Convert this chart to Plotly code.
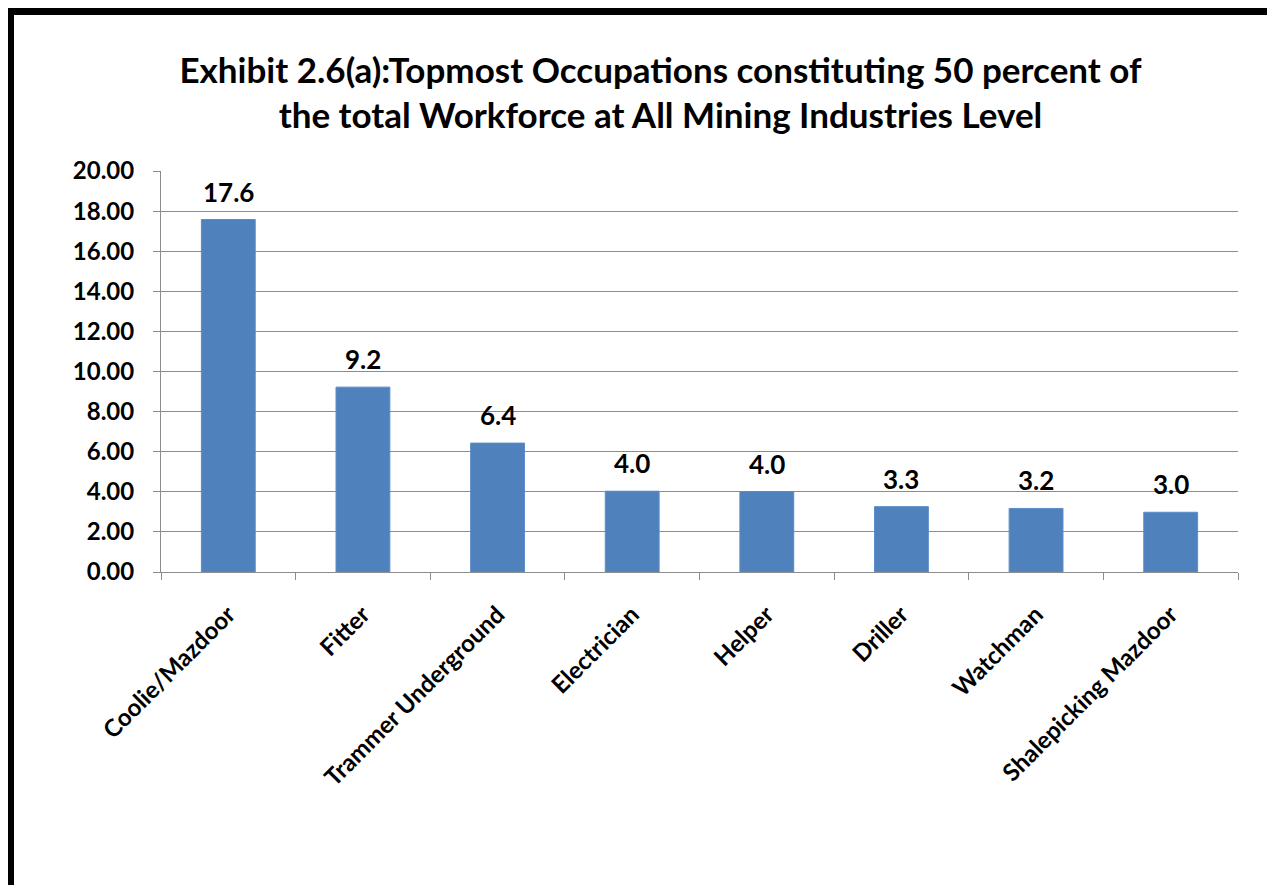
import plotly.graph_objects as go

# Datos del gráfico
ocupaciones = [
    "Coolie/Mazdoor", "Fitter", "Trammer Underground", "Electrician",
    "Helper", "Driller", "Watchman", "Shalepicking Mazdoor",
]
porcentajes = [17.58, 9.22, 6.43, 4.03, 4.01, 3.26, 3.17, 2.98]
ticks_y = [0, 2, 4, 6, 8, 10, 12, 14, 16, 18, 20]

titulo = ("Exhibit 2.6(a):Topmost Occupations constituting 50 percent of<br>"
          "the total Workforce at All Mining Industries Level")

# La página agrega 8px de margen al cuerpo; la figura se ajusta a eso
OFFSET = 8
ANCHO, ALTO = 1275 - OFFSET, 885 - OFFSET
MARGEN = dict(l=161 - OFFSET, r=37, t=171 - OFFSET, b=313)
FUENTE = "Lato"
GRIS = "#8C8C8C"


def px_x(p):
    return (p - OFFSET - MARGEN["l"]) / (ANCHO - MARGEN["l"] - MARGEN["r"])


def px_y(p):
    alto_plot = ALTO - MARGEN["t"] - MARGEN["b"]
    return 1 - (p - OFFSET - MARGEN["t"]) / alto_plot


fig = go.Figure(go.Bar(
    x=ocupaciones,
    y=porcentajes,
    marker=dict(color="#4F81BD", line=dict(color="#5B8DC9", width=1)),
    hovertemplate="%{x}: %{y:.1f}<extra></extra>",
))

# Etiquetas de valor sobre las barras
for cat, val in zip(ocupaciones, porcentajes):
    fig.add_annotation(
        x=cat, y=val, text=f"{val:.1f}", showarrow=False,
        yanchor="bottom", yshift=10,
        font=dict(family=FUENTE, size=26, color="black", weight="bold"),
    )

# Marco negro alrededor del gráfico (coordenadas de página)
borde = [
    (8, 8, 1275, 15),     # superior
    (8, 8, 14, 885),      # izquierdo
    (1271, 8, 1275, 885), # derecho
]
for x0, y0, x1, y1 in borde:
    fig.add_shape(
        type="rect", xref="paper", yref="paper",
        x0=px_x(x0), x1=px_x(x1), y0=px_y(y1), y1=px_y(y0),
        fillcolor="black", line=dict(width=0), layer="above",
    )

fig.update_layout(
    width=ANCHO, height=ALTO,
    margin=MARGEN,
    paper_bgcolor="white", plot_bgcolor="white",
    showlegend=False,
    bargap=0.6,
    title=dict(
        text=titulo, x=0.515, xanchor="center", y=0.915, yanchor="top",
        font=dict(family=FUENTE, size=35, color="black", weight="bold"),
    ),
    xaxis=dict(
        tickangle=-45, tickson="boundaries", ticks="outside", ticklen=7,
        tickcolor=GRIS, showline=True, linecolor=GRIS, linewidth=1,
        showgrid=False, ticklabelstandoff=18, automargin=False,
        tickfont=dict(family=FUENTE, size=24, color="black", weight="bold"),
    ),
    yaxis=dict(
        range=[0, 20], tickvals=ticks_y, tickformat=".2f",
        ticks="outside", ticklen=7, tickcolor=GRIS,
        showline=True, linecolor=GRIS, linewidth=1,
        showgrid=True, gridcolor=GRIS, gridwidth=1,
        zeroline=False, ticklabelstandoff=14, automargin=False,
        tickfont=dict(family=FUENTE, size=24, color="black", weight="bold"),
    ),
)

fig.write_html("out.html")
